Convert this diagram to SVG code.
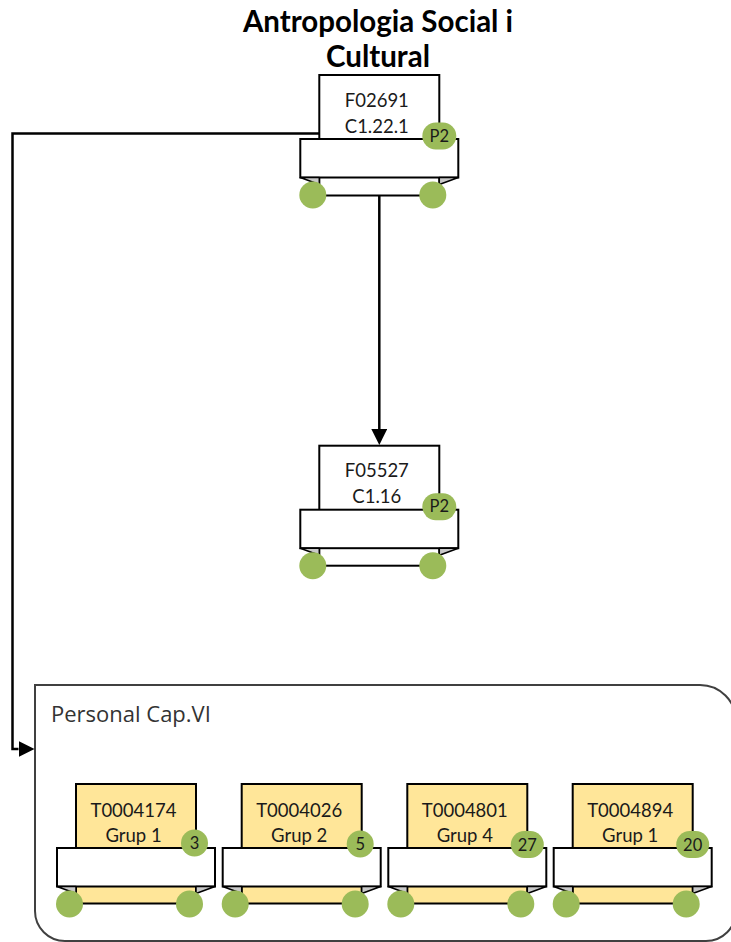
<svg xmlns="http://www.w3.org/2000/svg" xmlns:xlink="http://www.w3.org/1999/xlink" width="731" height="942" viewBox="0 0 731 942">
<style>
.title{font-family:Lato,"Liberation Sans",sans-serif;font-weight:bold;font-size:29.5px;fill:#000;text-anchor:middle}
.lbl{font-family:Lato,"Liberation Sans",sans-serif;font-size:18.5px;fill:#1a1a1a;text-anchor:middle}
.badge{font-family:Lato,"Liberation Sans",sans-serif;font-size:16.5px;fill:#1a1a1a;text-anchor:middle}
.cont{font-family:"Open Sans","Liberation Sans",sans-serif;font-size:22px;fill:#333}
.main{stroke:#000;stroke-width:2}
.white{fill:#fff}
.yellow{fill:#FFE699}
.green{fill:#9BBB59}
.conn{fill:none;stroke:#000;stroke-width:2.5}
</style>
<defs>
<marker id="arr" viewBox="0 0 16 16" refX="0" refY="8" markerWidth="16" markerHeight="16" markerUnits="userSpaceOnUse" orient="auto">
<path d="M0,0 L16,8 L0,16 z" fill="#000"/>
</marker>
<g id="ribbon">
<rect x="-19" y="64" width="158" height="38.5" fill="#fff" stroke="#000" stroke-width="2"/>
<polygon points="-19,102.5 0,102.5 0,109.5" fill="#C9C9C9" stroke="#000" stroke-width="1.5" stroke-linejoin="round"/>
<polygon points="139,102.5 120,102.5 120,109.5" fill="#C9C9C9" stroke="#000" stroke-width="1.5" stroke-linejoin="round"/>
<circle cx="-6.5" cy="120" r="13.5" fill="#9BBB59"/>
<circle cx="113.5" cy="120" r="13.5" fill="#9BBB59"/>
</g>
</defs>

<text class="title" x="378" y="32">Antropologia Social i</text>
<text class="title" x="378" y="67">Cultural</text>

<g id="container">
<path d="M35,685 H700 A36,36 0 0 1 736,721 V911 A30,30 0 0 1 706,941 H65 A30,30 0 0 1 35,911 Z" fill="none" stroke="#404040" stroke-width="2"/>
<text class="cont" x="51" y="722">Personal Cap.VI</text>
</g>

<g id="connectors">
<path class="conn" d="M379.3,196 V429" marker-end="url(#arr)"/>
<path class="conn" d="M319.3,133.5 H12.5 V749 H18.5" marker-end="url(#arr)"/>
</g>

<g id="node-F02691" transform="translate(319.3,75)">
<rect class="main white" width="120" height="120.5"/>
<use xlink:href="#ribbon"/>
<text class="lbl" x="57.5" y="31.7">F02691</text>
<text class="lbl" x="57.5" y="57.7">C1.22.1</text>
<rect class="green" x="103" y="47.5" width="34" height="27" rx="13.5"/>
<text class="badge" x="120" y="66.5">P2</text>
</g>

<g id="node-F05527" transform="translate(319.3,445.7)">
<rect class="main white" width="120" height="120"/>
<use xlink:href="#ribbon"/>
<text class="lbl" x="57.5" y="31">F05527</text>
<text class="lbl" x="57.5" y="57">C1.16</text>
<rect class="green" x="103" y="47.5" width="34" height="27" rx="13.5"/>
<text class="badge" x="120" y="66.5">P2</text>
</g>

<g id="node-T0004174" transform="translate(76,784)">
<rect class="main yellow" width="120" height="119.5"/>
<use xlink:href="#ribbon"/>
<text class="lbl" x="57.5" y="32.5">T0004174</text>
<text class="lbl" x="57.5" y="57.5">Grup 1</text>
<circle class="green" cx="118.5" cy="59" r="13.5"/>
<text class="badge" x="118.5" y="65">3</text>
</g>

<g id="node-T0004026" transform="translate(241.7,784)">
<rect class="main yellow" width="120" height="119.5"/>
<use xlink:href="#ribbon"/>
<text class="lbl" x="57.5" y="32.5">T0004026</text>
<text class="lbl" x="57.5" y="57.5">Grup 2</text>
<circle class="green" cx="118.5" cy="60" r="13.5"/>
<text class="badge" x="118.5" y="66">5</text>
</g>

<g id="node-T0004801" transform="translate(407.3,784)">
<rect class="main yellow" width="120" height="119.5"/>
<use xlink:href="#ribbon"/>
<text class="lbl" x="57.5" y="32.5">T0004801</text>
<text class="lbl" x="57.5" y="57.5">Grup 4</text>
<rect class="green" x="103.5" y="47" width="33" height="27" rx="13.5"/>
<text class="badge" x="120" y="66.5">27</text>
</g>

<g id="node-T0004894" transform="translate(572.7,784)">
<rect class="main yellow" width="120" height="119.5"/>
<use xlink:href="#ribbon"/>
<text class="lbl" x="57.5" y="32.5">T0004894</text>
<text class="lbl" x="57.5" y="57.5">Grup 1</text>
<rect class="green" x="103.5" y="47" width="33" height="27" rx="13.5"/>
<text class="badge" x="120" y="66.5">20</text>
</g>
</svg>
